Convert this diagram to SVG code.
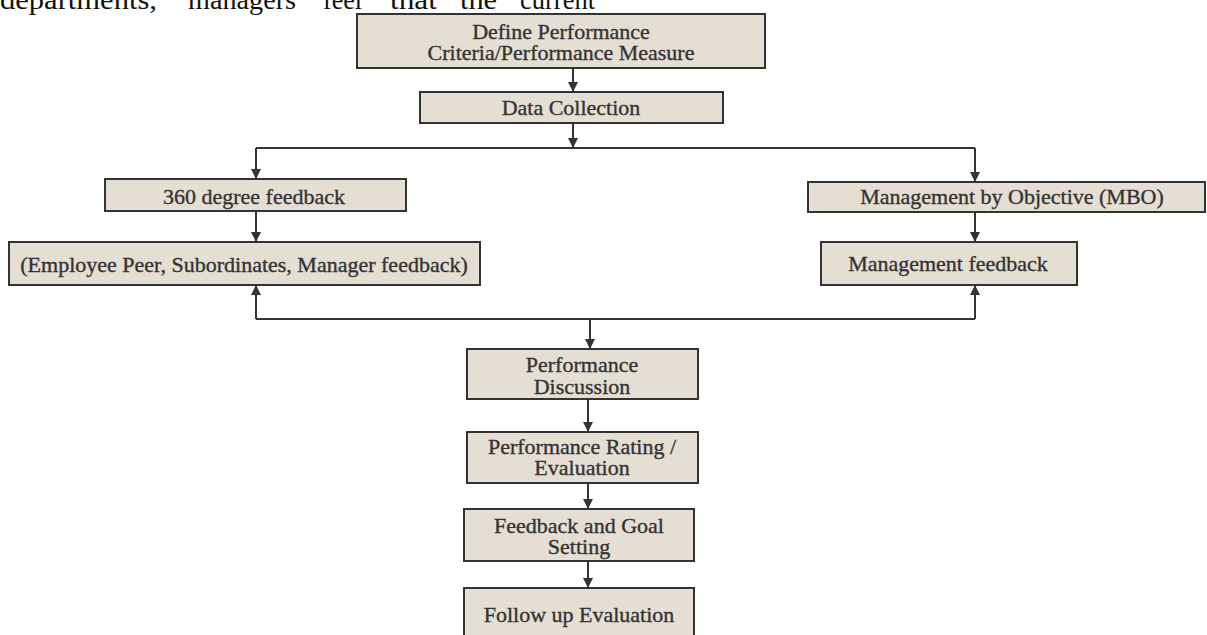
<svg xmlns="http://www.w3.org/2000/svg" width="1207" height="635" viewBox="0 0 1207 635">
<defs>
<style>
.box{fill:#e5ded3;stroke:#333;stroke-width:2}
.t{font-family:"Liberation Serif","Times New Roman",serif;font-size:22px;fill:#333;stroke:#333;stroke-width:0.35;text-anchor:middle}
.p{font-family:"Liberation Serif","Times New Roman",serif;font-size:27px;fill:#111}
.c{stroke:#333;stroke-width:2;fill:none}
</style>
<marker id="ah" viewBox="0 0 10 10" refX="10" refY="5" markerWidth="5" markerHeight="5" orient="auto" markerUnits="strokeWidth">
<path d="M0,0 L10,5 L0,10 z" fill="#333"/>
</marker>
</defs>
<rect width="1207" height="635" fill="#fff"/>
<g id="para">
<text class="p" x="0" y="9" textLength="157" lengthAdjust="spacingAndGlyphs">departments,</text>
<text class="p" x="188" y="9" textLength="108" lengthAdjust="spacingAndGlyphs">managers</text>
<text class="p" x="323" y="9" textLength="39" lengthAdjust="spacingAndGlyphs">feel</text>
<text class="p" x="390" y="9" textLength="47" lengthAdjust="spacingAndGlyphs">that</text>
<text class="p" x="460" y="9" textLength="37" lengthAdjust="spacingAndGlyphs">the</text>
<text class="p" x="520" y="9" textLength="75" lengthAdjust="spacingAndGlyphs">current</text>
</g>
<g id="connectors">
<path class="c" d="M573,68 V92" marker-end="url(#ah)"/>
<path class="c" d="M573,123 V148" marker-end="url(#ah)"/>
<path class="c" d="M256,148 H975"/>
<path class="c" d="M256,148 V179" marker-end="url(#ah)"/>
<path class="c" d="M975,148 V182" marker-end="url(#ah)"/>
<path class="c" d="M256,211 V242" marker-end="url(#ah)"/>
<path class="c" d="M975,212 V242" marker-end="url(#ah)"/>
<path class="c" d="M256,319 H975"/>
<path class="c" d="M256,319 V285" marker-end="url(#ah)"/>
<path class="c" d="M975,319 V285" marker-end="url(#ah)"/>
<path class="c" d="M590,319 V349" marker-end="url(#ah)"/>
<path class="c" d="M588,399 V432" marker-end="url(#ah)"/>
<path class="c" d="M588,483 V509" marker-end="url(#ah)"/>
<path class="c" d="M588,561 V588" marker-end="url(#ah)"/>
</g>
<g id="define">
<rect class="box" x="357" y="14" width="408" height="54"/>
<text class="t" x="561" y="39">Define Performance</text>
<text class="t" x="561" y="60">Criteria/Performance Measure</text>
</g>
<g id="data">
<rect class="box" x="420" y="92" width="303" height="31"/>
<text class="t" x="571" y="115">Data Collection</text>
</g>
<g id="f360">
<rect class="box" x="105" y="179" width="301" height="32"/>
<text class="t" x="254" y="204">360 degree feedback</text>
</g>
<g id="mbo">
<rect class="box" x="808" y="182" width="397" height="30"/>
<text class="t" x="1012" y="204">Management by Objective (MBO)</text>
</g>
<g id="employee">
<rect class="box" x="9" y="242" width="471" height="43"/>
<text class="t" x="244" y="272">(Employee Peer, Subordinates, Manager feedback)</text>
</g>
<g id="mgmtfb">
<rect class="box" x="821" y="242" width="256" height="43"/>
<text class="t" x="948" y="271">Management feedback</text>
</g>
<g id="discussion">
<rect class="box" x="467" y="349" width="231" height="50"/>
<text class="t" x="582" y="372">Performance</text>
<text class="t" x="582" y="394">Discussion</text>
</g>
<g id="rating">
<rect class="box" x="467" y="432" width="231" height="51"/>
<text class="t" x="582" y="454">Performance Rating /</text>
<text class="t" x="582" y="475">Evaluation</text>
</g>
<g id="goal">
<rect class="box" x="464" y="509" width="230" height="52"/>
<text class="t" x="579" y="533">Feedback and Goal</text>
<text class="t" x="579" y="554">Setting</text>
</g>
<g id="followup">
<rect class="box" x="464" y="588" width="230" height="60"/>
<text class="t" x="579" y="622">Follow up Evaluation</text>
</g>
</svg>
